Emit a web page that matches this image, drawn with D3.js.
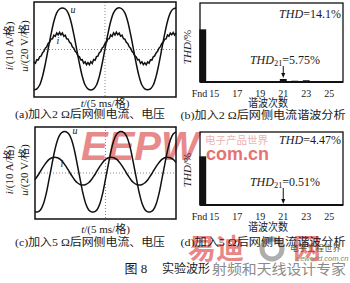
<!DOCTYPE html>
<html><head><meta charset="utf-8">
<script src="https://cdn.jsdelivr.net/npm/d3@7"></script>
<style>
html,body{margin:0;padding:0;background:#fff;}
svg{display:block;}
text{font-family:"Liberation Serif","Noto Sans CJK SC",serif;fill:#1a1a1a;}
</style></head><body>
<svg id="c" width="350" height="283"></svg>
<script>
// ---- data ----
const timeDomain = [0, 50];          // ms (5 ms per division)
const divDomain = [-4, 4];           // vertical divisions
const uA = [-3.40,-3.31,-2.99,-2.26,-1.19,0.05,1.29,2.36,3.09,3.41,3.50,3.41,3.09,2.36,1.29,0.05,-1.19,-2.26,-2.99,-3.31,-3.40,
            -3.31,-2.99,-2.26,-1.19,0.05,1.29,2.36,3.09,3.42,3.52,3.41,3.09,2.36,1.29,0.05,-1.19,-2.26,-2.99,-3.31,-3.39,
            -3.31,-2.99,-2.26,-1.19,0.05,1.29,2.36,3.09,3.41,3.50];
const iA = [-1.04,-1.16,-0.86,-0.88,-0.62,-0.55,-0.28,-0.16,0.12,0.23,0.52,0.60,0.88,0.90,1.21,1.11,1.39,1.23,1.45,1.23,1.39,1.11,1.21,0.90,0.88,0.60,0.52,0.23,0.12,-0.16,-0.28,-0.55,-0.62,-0.88,-0.86,-1.16,-1.04,-1.28,-1.10,-1.28,
            -1.02,-1.18,-0.85,-0.90,-0.60,-0.56,-0.27,-0.17,0.13,0.22,0.53,0.59,0.89,0.91,1.23,1.10,1.40,1.22,1.46,1.24,1.38,1.12,1.20,0.91,0.87,0.61,0.51,0.24,0.11,-0.15,-0.29,-0.54,-0.63,-0.87,-0.85,-1.17,-1.03,-1.27,-1.11,-1.29,
            -1.05,-1.15,-0.87,-0.89,-0.61,-0.54,-0.29,-0.15,0.11,0.24,0.51,0.61,0.87,0.89,1.22,1.12,1.38,1.24,1.44,1.22,1.40];
const uC = [-3.38,-3.38,-3.19,-2.67,-1.76,-0.53,0.73,1.96,2.87,3.39,3.58,3.58,3.39,2.87,1.96,0.73,-0.53,-1.76,-2.67,-3.19,-3.38,
            -3.38,-3.19,-2.67,-1.76,-0.53,0.73,1.96,2.87,3.39,3.58,3.58,3.39,2.87,1.96,0.73,-0.53,-1.76,-2.67,-3.19,-3.38,
            -3.38,-3.19,-2.67,-1.76,-0.53,0.73,1.96,2.87,3.39,3.58];
const iC = [-0.58,-0.22,0.18,0.57,0.92,1.18,1.33,1.38,1.33,1.18,0.92,0.57,0.18,-0.22,-0.58,-0.85,-1.00,-1.05,-1.00,-0.85,-0.58,
            -0.22,0.18,0.57,0.92,1.18,1.33,1.38,1.33,1.18,0.92,0.57,0.18,-0.22,-0.58,-0.85,-1.00,-1.05,-1.00,-0.85,-0.58,
            -0.22,0.18,0.57,0.92,1.18,1.33,1.38,1.33,1.18,0.92];
const harmonicOrders = ["Fnd","15","16","17","18","19","20","21","22","23","24","25"];
const harmB = [100,0.8,0.6,0.9,0.5,0.9,1.1,5.75,2.4,3.3,0.7,0.8];
const harmD = [100,0.4,0.3,0.4,0.3,0.4,0.3,0.51,0.3,0.4,0.3,0.3];
const tickLabels = ["Fnd","15","17","19","21","23","25"];
const thdDomain = [0, 150];

const svg = d3.select("#c");
const wmBack = svg.append("g");

function txt(x, y, parts, opt = {}) {
  const t = svg.append("text").attr("x", x).attr("y", y)
    .attr("font-size", opt.size || 11)
    .attr("text-anchor", opt.anchor || "middle")
    .attr("dominant-baseline", "middle");
  if (opt.rotate) t.attr("transform", `rotate(-90,${x},${y})`);
  if (opt.len) t.attr("textLength", opt.len).attr("lengthAdjust", "spacingAndGlyphs");
  if (opt.fill) t.style("fill", opt.fill);
  parts.forEach(p => {
    const s = t.append("tspan").text(p.t);
    if (p.i) s.attr("font-style", "italic");
    if (p.sub) s.attr("font-size", (opt.size || 11) * 0.7).attr("dy", 3);
    if (p.dy) s.attr("dy", p.dy);
  });
  return t;
}

function wave(cfg) {
  const x = d3.scaleLinear().domain(timeDomain).range([cfg.x0, cfg.x1]);
  const y = d3.scaleLinear().domain(divDomain).range([cfg.y1, cfg.y0]);
  const g = svg.append("g");
  g.append("line").attr("x1", x(25)).attr("x2", x(25)).attr("y1", cfg.y0).attr("y2", cfg.y1)
    .attr("stroke", "#888").attr("stroke-dasharray", "1,2");
  g.append("line").attr("x1", cfg.x0).attr("x2", cfg.x1).attr("y1", y(0)).attr("y2", y(0))
    .attr("stroke", "#888").attr("stroke-dasharray", "1,2");
  const lu = d3.line().x((d, k) => x(k * 1)).y(d => y(d)).curve(d3.curveCatmullRom);
  g.append("path").datum(cfg.u).attr("d", lu).attr("fill", "none").attr("stroke", "#111").attr("stroke-width", 1.5);
  const li = d3.line().x((d, k) => x(k * cfg.iStep)).y(d => y(d)).curve(cfg.iStep < 1 ? d3.curveLinear : d3.curveCatmullRom);
  g.append("path").datum(cfg.i).attr("d", li).attr("fill", "none").attr("stroke", "#111").attr("stroke-width", 1.5);
  g.append("rect").attr("x", cfg.x0).attr("y", cfg.y0).attr("width", cfg.x1 - cfg.x0).attr("height", cfg.y1 - cfg.y0)
    .attr("fill", "none").attr("stroke", "#111").attr("stroke-width", 1.5);
  txt(cfg.uLab[0], cfg.uLab[1], [{t: "u", i: true}], {size: 10});
  txt(cfg.iLab[0], cfg.iLab[1], [{t: "i", i: true}], {size: 10});
  const cy = cfg.labY;
  txt(10, cy, [{t: "i", i: true}, {t: "/(10 A/格)"}], {rotate: true, size: 11});
  txt(25, cy, [{t: "u", i: true}, {t: "/(20 V/格)"}], {rotate: true, size: 11});
  txt((cfg.x0 + cfg.x1) / 2, cfg.tY, [{t: "t", i: true}, {t: "/(5 ms/格)"}], {size: 11});
  txt(90, cfg.capY, [{t: cfg.cap}], {size: 11, len: 150});
}

function bars(cfg) {
  const x = d3.scaleBand().domain(harmonicOrders).range([197, 335]).paddingInner(0.4).paddingOuter(0.2);
  const y = d3.scaleLinear().domain(thdDomain).range([cfg.y1, cfg.y0]);
  const g = svg.append("g");
  g.selectAll("rect.b").data(cfg.vals).join("rect")
    .attr("x", (d, k) => x(harmonicOrders[k])).attr("width", x.bandwidth())
    .attr("y", d => y(d)).attr("height", d => y(0) - y(d)).attr("fill", "#111");
  g.append("rect").attr("x", 200).attr("y", cfg.y0).attr("width", 143).attr("height", cfg.y1 - cfg.y0)
    .attr("fill", "none").attr("stroke", "#111").attr("stroke-width", 1.3);
  g.append("line").attr("x1", 200).attr("x2", 343).attr("y1", cfg.y1).attr("y2", cfg.y1)
    .attr("stroke", "#111").attr("stroke-width", 2);
  const ax = g.append("g").attr("transform", `translate(0,${cfg.tickY})`)
    .call(d3.axisBottom(x).tickValues(tickLabels).tickSize(0));
  ax.select(".domain").remove();
  ax.selectAll("text").attr("font-size", 10).attr("font-family", "Liberation Serif").attr("dy", "0.3em")
    .attr("text-anchor", d => d === "Fnd" ? "end" : "middle")
    .attr("x", d => d === "Fnd" ? 4.5 : 0);
  // arrow to 21st harmonic
  const ax21 = x("21") + x.bandwidth() / 2;
  g.append("line").attr("x1", ax21).attr("x2", ax21).attr("y1", cfg.arrow[0]).attr("y2", cfg.arrow[1] - 4)
    .attr("stroke", "#111").attr("stroke-width", 1);
  g.append("path").attr("d", `M${ax21 - 2},${cfg.arrow[1] - 5}L${ax21 + 2},${cfg.arrow[1] - 5}L${ax21},${cfg.arrow[1]}Z`).attr("fill", "#111");
  txt(188, cfg.labY, [{t: "THD", i: true}, {t: "/%"}], {rotate: true, size: 11});
  txt(310, cfg.thdY, [{t: "THD", i: true}, {t: "=" + cfg.thd}], {size: 12});
  txt(285, cfg.thd21Y, [{t: "THD", i: true}, {t: "21", sub: true}, {t: "=" + cfg.thd21, dy: -3}], {size: 12});
  txt(268, cfg.harmY, [{t: "谐波次数"}], {size: 11, len: 40});
  txt(263, cfg.capY, [{t: cfg.cap}], {size: 11, len: 165});
}

// watermarks (behind the chart)
wmBack.append("text").attr("x", 81).attr("y", 160).text("EEPW")
  .attr("font-size", 40).attr("font-weight", "bold").attr("font-style", "italic")
  .style("font-family", "Liberation Sans").style("fill", "#e36d6d").attr("opacity", 0.8);
wmBack.append("text").attr("x", 205).attr("y", 144).text("电子产品世界")
  .attr("font-size", 10.5).style("font-family", "Noto Sans CJK SC").style("fill", "#ebb3b3");
wmBack.append("text").attr("x", 201).attr("y", 160).text(".com.cn")
  .attr("font-size", 18).attr("font-weight", "bold").style("font-family", "Liberation Sans").style("fill", "#e25a5a").attr("opacity", 0.85);
wmBack.append("text").attr("x", 188).attr("y", 259).text("易迪")
  .attr("font-size", 28).attr("font-weight", "bold").style("font-family", "Noto Sans CJK SC").style("fill", "#e05555").attr("opacity", 0.7);
wmBack.append("text").attr("x", 293).attr("y", 259).text("网")
  .attr("font-size", 28).attr("font-weight", "bold").style("font-family", "Noto Sans CJK SC").style("fill", "#e05555").attr("opacity", 0.7);
wmBack.append("circle").attr("cx", 272).attr("cy", 249).attr("r", 10)
  .attr("fill", "none").attr("stroke", "#9a9a9a").attr("stroke-width", 5).attr("opacity", 0.8);

wave({x0: 34, x1: 176, y0: 2, y1: 97, u: uA, i: iA, iStep: 0.5, uLab: [73, 11], iLab: [58, 42],
      labY: 46, tY: 104, capY: 115, cap: "(a)加入2 Ω后网侧电流、电压"});
wave({x0: 35, x1: 176, y0: 127, y1: 219, u: uC, i: iC, iStep: 1, uLab: [75, 132], iLab: [62, 165],
      labY: 170, tY: 230, capY: 243, cap: "(c)加入5 Ω后网侧电流、电压"});
bars({y0: 3, y1: 82, vals: harmB, arrow: [66, 78], labY: 47, thdY: 15, thd21Y: 61, thd: "14.1%", thd21: "5.75%",
      tickY: 91, harmY: 104, capY: 116, cap: "(b)加入2 Ω后网侧电流谐波分析"});
bars({y0: 132, y1: 205, vals: harmD, arrow: [188, 204], labY: 170, thdY: 141, thd21Y: 183, thd: "4.47%", thd21: "0.51%",
      tickY: 214, harmY: 228, capY: 243, cap: "(d)加入5 Ω后网侧电流谐波分析"});

// small watermark labels and figure caption
svg.append("text").attr("x", 290).attr("y", 251).text("电子工程世界")
  .attr("font-size", 8.5).style("font-family", "Noto Sans CJK SC").style("fill", "#5a5a30");
svg.append("text").attr("x", 296).attr("y", 261).text("eeworld.com.cn")
  .attr("font-size", 7.5).attr("font-style", "italic").style("font-family", "Liberation Sans").style("fill", "#7a8a70");
txt(136, 270, [{t: "图 8"}], {size: 13});
txt(186, 270, [{t: "实验波形"}], {size: 12});
txt(279, 271, [{t: "射频和天线设计专家"}], {size: 14, fill: "#8a8a8a", len: 134});
</script>
</body></html>
